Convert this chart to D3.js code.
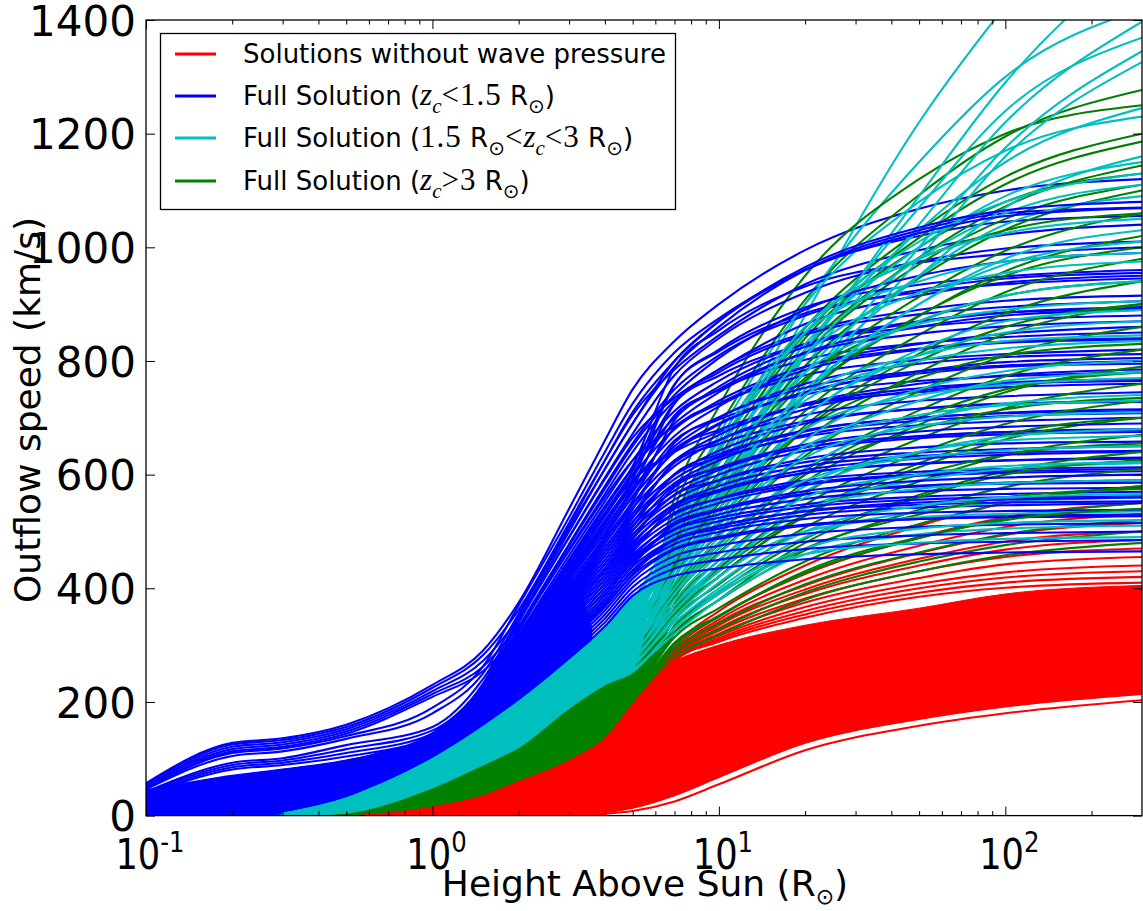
<!DOCTYPE html>
<html><head><meta charset="utf-8">
<script src="https://cdn.jsdelivr.net/npm/d3@7"></script>
<style>body{margin:0;background:#fff} svg{display:block}</style>
</head><body><svg id="chart" width="1143" height="911"></svg>
<script>
// x positions (heights above Sun, R_sun) at which every curve is sampled
const LX = [0.1,0.2,0.3,0.5,1,1.5,2,3,4,5,7,10,20,50,100,300];

// Full solution, z_c < 1.5 R_sun (blue)
const blueLines = [
 [57,128,136,160,230,290,375,540,660,750,835,900,995,1068,1100,1120],
 [43,68,80,96,145,232,350,505,610,690,800,870,960,1020,1045,1055],
 [44,70,81,97,139,219,319,448,540,615,788,854,931,973,988,1000],
 [55,125,133,156,225,282,362,515,625,705,785,845,935,995,1022,1040],
 [42,67,79,95,143,228,340,490,595,672,775,840,920,975,998,1010],
 [43,68,79,95,138,217,315,442,533,607,759,817,884,921,935,945],
 [52,121,129,152,219,272,348,490,592,665,735,785,865,915,938,950],
 [41,66,78,94,141,224,332,478,580,655,750,810,880,925,945,955],
 [41,66,77,93,137,215,311,437,526,600,726,774,830,860,872,880],
 [50,117,125,148,214,262,334,466,560,625,685,725,790,830,848,860],
 [40,65,77,93,140,220,325,468,566,640,730,785,850,890,906,915],
 [40,64,75,91,135,213,308,431,519,592,758,820,894,934,949,960],
 [47,113,121,144,209,254,320,445,532,590,640,675,725,760,775,785],
 [39,63,75,92,139,218,318,458,553,625,712,765,830,870,885,892],
 [38,62,73,89,134,211,304,425,512,585,704,749,802,831,842,850],
 [42,93,101,124,156,240,345,500,610,690,790,860,960,1030,1060,1070],
 [38,61,73,90,138,215,312,450,542,612,700,755,825,868,885,895],
 [37,60,71,87,133,209,300,420,505,577,725,780,846,882,895,905],
 [40,89,97,117,150,228,328,475,575,650,740,805,890,950,975,990],
 [36,59,71,88,136,212,306,441,530,598,680,730,790,822,834,840],
 [35,58,68,85,132,207,296,414,499,569,682,725,775,802,812,820],
 [38,85,93,110,144,215,310,450,545,612,690,745,815,860,880,890],
 [35,57,69,86,135,210,300,432,518,585,668,720,784,820,832,838],
 [34,56,66,83,131,205,292,408,492,562,660,697,741,765,773,780],
 [36,81,89,104,139,205,295,428,515,578,645,690,745,782,798,805],
 [33,55,67,84,134,207,294,424,507,572,650,700,760,795,807,812],
 [32,53,64,81,130,203,289,402,485,554,696,750,813,848,861,870],
 [48,110,118,140,190,262,370,525,640,725,815,875,960,1025,1055,1069],
 [32,53,65,82,133,205,289,416,497,560,640,688,745,778,790,795],
 [31,51,62,79,128,201,285,397,478,547,643,679,722,745,754,760],
 [46,105,113,135,180,250,355,510,625,710,800,870,965,1035,1065,1080],
 [30,51,63,80,132,202,284,408,488,550,625,670,722,752,762,768],
 [29,49,60,77,127,199,281,391,471,539,656,701,753,782,792,800],
 [29,49,61,78,131,200,280,401,480,541,615,660,715,748,760,765],
 [28,47,58,75,126,197,277,385,464,531,621,654,694,716,724,730],
 [27,47,59,76,130,198,276,395,472,532,600,642,690,716,725,728],
 [27,45,56,73,125,195,273,380,457,524,623,661,705,730,738,745],
 [26,45,57,74,128,196,272,389,465,525,592,632,676,700,708,712],
 [25,43,54,71,124,193,270,374,450,516,599,630,667,687,694,700],
 [24,43,55,72,127,194,268,383,458,517,585,625,670,695,703,708],
 [24,41,52,69,123,191,266,368,443,508,601,636,678,700,709,715],
 [23,41,53,70,126,192,264,377,450,510,572,608,648,668,675,678],
 [22,39,50,67,121,189,262,363,436,501,582,612,648,667,675,680],
 [21,39,51,68,125,190,260,371,443,502,565,600,642,664,671,675],
 [21,37,47,65,120,187,258,357,430,493,564,590,622,639,645,650],
 [20,37,49,66,124,188,256,365,436,495,556,590,628,648,655,658],
 [19,35,45,63,119,185,254,351,423,486,578,612,653,676,684,690],
 [18,35,47,64,122,186,252,359,429,488,548,580,615,633,639,642],
 [18,33,43,61,118,183,251,345,416,478,546,572,603,619,625,630],
 [17,33,45,62,121,184,249,353,422,481,540,570,603,620,625,628],
 [16,31,41,59,117,181,247,340,409,470,533,557,585,600,606,610],
 [15,31,43,60,120,182,245,347,415,474,530,558,590,605,610,613],
 [15,29,39,57,116,179,243,334,402,463,543,573,608,628,635,640],
 [14,29,41,58,119,180,241,341,408,466,522,550,582,598,603,606],
 [13,27,37,55,114,177,239,328,395,455,516,539,566,581,586,590],
 [12,27,39,56,118,178,237,335,401,459,512,537,565,579,584,586],
 [12,25,35,53,113,175,235,323,388,448,503,524,548,561,566,570],
 [11,25,37,54,117,176,234,330,394,452,505,530,557,571,575,577],
 [10,22,33,51,112,173,232,317,381,440,512,539,571,589,595,600],
 [9,22,35,52,116,174,231,324,388,445,495,518,543,556,560,562],
 [9,20,31,49,111,171,228,311,374,432,485,505,529,542,546,550],
 [8,20,33,50,114,172,228,318,382,438,487,510,535,547,551,553],
 [8,18,28,47,110,169,224,306,367,425,486,509,536,551,556,560],
 [6,18,31,48,113,170,225,313,376,430,478,499,522,533,536,538],
 [6,16,26,45,109,167,220,300,361,417,468,487,510,522,527,530],
 [5,16,29,46,112,168,222,308,370,423,470,490,512,522,525,527],
 [5,14,24,43,107,165,216,294,354,410,457,475,496,508,512,515],
 [3,12,22,41,106,163,213,288,347,402,446,463,482,493,497,500],
 [2,10,20,39,105,161,209,283,340,394,435,450,469,479,482,485],
 [1,8,18,37,104,160,205,277,333,387,422,435,451,460,463,465]
];

// Full solution, 1.5 R_sun < z_c < 3 R_sun (cyan)
const cyanLines = [
 [null,null,3,30,104,158,202,273,328,383,470,600,880,1220,1425,1700],
 [null,null,3,30,103,157,200,272,326,380,500,640,900,1150,1300,1420],
 [null,null,3,29,102,155,199,270,324,378,450,560,810,1090,1290,1520],
 [null,null,3,28,100,153,196,267,321,373,460,560,790,1040,1220,1397],
 [null,null,3,28,99,151,194,266,319,370,455,555,760,1000,1175,1345],
 [null,null,3,27,98,150,193,264,317,368,470,580,820,1070,1240,1369],
 [null,null,3,27,97,149,191,262,315,366,520,670,900,1080,1170,1230],
 [null,null,3,26,96,148,190,261,314,364,440,530,740,980,1160,1326],
 [null,null,2,26,95,146,188,259,312,361,490,620,830,1000,1090,1150],
 [null,null,2,25,94,145,187,258,310,359,480,600,820,1030,1150,1245],
 [null,null,2,25,92,143,184,254,306,354,450,550,760,950,1070,1160],
 [null,null,2,24,91,141,182,252,304,351,470,590,810,980,1060,1110],
 [null,null,2,24,90,140,181,251,303,349,500,640,850,1010,1080,1130],
 [null,null,2,23,88,138,178,248,299,344,460,570,780,950,1040,1090],
 [null,null,2,23,87,136,176,246,297,342,440,540,740,900,980,1030],
 [null,null,2,22,86,135,175,245,296,340,520,660,860,980,1025,1050],
 [null,null,2,21,84,133,172,242,292,335,440,540,740,900,970,1010],
 [null,null,2,21,83,131,170,240,290,332,510,650,850,940,975,990],
 [null,null,2,20,82,130,169,239,288,330,490,620,810,920,955,975],
 [null,null,2,19,80,128,166,236,285,325,450,560,750,870,915,940],
 [null,null,2,19,79,126,164,234,283,323,430,530,700,820,870,890],
 [null,null,2,18,78,125,163,233,281,321,470,600,780,865,890,905],
 [null,null,1,17,76,123,160,230,278,316,420,520,700,810,850,870],
 [null,null,1,17,75,121,158,228,276,313,460,580,740,810,835,845],
 [null,null,1,16,74,120,157,227,274,311,450,570,730,800,822,835],
 [null,null,1,15,72,118,154,223,270,306,410,500,660,750,782,800],
 [null,null,1,15,71,116,152,221,268,303,400,490,640,730,765,780],
 [null,null,1,14,70,115,151,220,267,301,430,540,680,740,758,770],
 [null,null,1,13,68,113,148,217,263,296,390,470,610,695,725,740],
 [null,null,1,13,67,111,146,215,261,294,420,520,650,705,722,730],
 [null,null,1,12,66,110,145,214,260,292,410,510,630,685,702,710],
 [null,null,1,11,64,108,142,211,256,287,370,440,570,640,667,680],
 [null,null,1,11,63,106,140,209,254,284,380,460,580,640,660,668],
 [null,null,1,10,62,105,139,208,252,282,390,480,590,630,643,650],
 [null,null,0,10,60,103,136,205,249,277,360,430,540,590,610,620],
 [null,null,0,9,59,101,134,203,247,274,360,440,560,600,615,622],
 [null,null,0,9,58,100,133,202,245,272,370,450,540,575,585,590],
 [null,null,0,8,56,98,130,199,242,268,340,400,490,535,552,560],
 [null,null,0,8,55,96,128,197,240,265,345,410,500,545,560,566],
 [null,null,0,7,54,95,127,196,238,263,350,420,500,525,531,535],
 [null,null,0,6,52,93,124,193,235,258,320,380,460,495,505,510],
 [null,null,0,6,51,91,122,191,233,255,330,395,470,505,515,520],
 [null,null,0,6,50,90,121,190,231,253,330,390,460,480,487,490]
];

// Full solution, z_c > 3 R_sun (green)
const greenLines = [
 [null,null,null,5,50,88,121,190,230,252,540,683,908,1092,1195,1277],
 [null,null,null,5,50,87,120,188,228,251,560,720,950,1120,1200,1250],
 [null,null,null,5,49,86,118,186,226,250,516,649,858,1029,1124,1200],
 [null,null,null,5,48,85,117,184,224,249,500,630,840,1000,1080,1130],
 [null,null,null,5,47,84,116,182,222,248,511,642,848,1017,1111,1186],
 [null,null,null,5,46,82,114,180,220,246,470,600,810,970,1050,1110],
 [null,null,null,5,46,81,113,178,218,245,497,623,820,982,1072,1144],
 [null,null,null,4,45,80,112,176,216,244,520,660,860,980,1030,1060],
 [null,null,null,4,44,79,111,174,214,243,483,603,791,946,1031,1100],
 [null,null,null,4,43,78,109,172,212,242,450,560,740,880,950,1000],
 [null,null,null,4,43,77,108,170,210,241,470,585,765,913,994,1060],
 [null,null,null,4,42,75,106,167,207,239,458,567,739,879,958,1020],
 [null,null,null,4,41,74,104,165,205,238,480,600,770,870,915,940],
 [null,null,null,4,40,73,103,163,203,237,445,549,712,846,921,980],
 [null,null,null,4,39,70,101,159,199,234,432,531,686,813,884,940],
 [null,null,null,4,38,71,102,161,201,235,420,520,680,800,860,900],
 [null,null,null,4,37,68,98,155,195,232,419,513,660,780,847,900],
 [null,null,null,4,36,67,97,153,193,231,440,540,680,770,810,830],
 [null,null,null,4,36,66,96,151,191,230,406,495,633,747,810,860],
 [null,null,null,3,35,64,93,147,187,228,394,477,607,713,773,820],
 [null,null,null,3,34,63,92,145,185,227,390,470,600,700,750,780],
 [null,null,null,3,33,62,91,143,183,226,384,463,587,688,745,790],
 [null,null,null,3,32,59,88,139,179,223,373,449,567,663,717,760],
 [null,null,null,3,31,58,87,137,177,222,400,480,600,680,715,735],
 [null,null,null,3,30,57,86,135,175,221,364,435,547,638,689,730],
 [null,null,null,3,29,55,83,131,171,219,354,421,527,613,662,700],
 [null,null,null,3,29,54,82,130,170,218,350,420,530,620,670,700],
 [null,null,null,3,28,53,81,128,168,217,344,407,507,588,634,670],
 [null,null,null,3,27,50,77,122,162,213,360,430,530,600,635,655],
 [null,null,null,3,26,51,78,124,164,215,334,394,487,564,606,640],
 [null,null,null,3,25,48,76,120,160,212,323,379,467,538,578,610],
 [null,null,null,2,24,47,74,118,158,211,320,380,480,560,600,625],
 [null,null,null,2,23,46,73,116,156,210,314,365,447,513,550,580],
 [null,null,null,2,22,44,71,112,152,208,304,352,427,488,523,550],
 [null,null,null,2,21,43,69,110,150,207,330,390,470,530,560,575],
 [null,null,null,2,21,42,68,108,148,206,294,338,407,463,495,520],
 [null,null,null,2,19,40,66,104,144,204,287,328,393,447,476,500],
 [null,null,null,2,19,39,64,102,142,202,300,350,430,490,520,540],
 [null,null,null,2,18,38,63,100,140,201,279,318,380,430,458,480]
];

// Solutions without wave pressure (red): the upper, separated curves and the two lowest ones
const redLines = [
 [null,null,null,2,16,35,58,95,135,198,300,360,440,510,550,580],
 [null,null,null,2,15,34,57,94,134,196,295,350,425,490,525,550],
 [null,null,null,2,15,33,56,93,133,194,290,345,415,475,508,530],
 [null,null,null,2,14,32,55,92,132,192,288,340,405,462,494,515],
 [null,null,null,1,14,31,54,91,131,190,285,335,398,452,482,500],
 [null,null,null,1,13,30,53,90,130,188,283,330,390,440,468,485],
 [null,null,null,1,13,29,52,89,129,186,281,325,382,430,455,470],
 [null,null,null,1,12,28,51,88,128,184,279,320,375,418,442,455],
 [null,null,null,1,12,27,50,87,127,182,277,316,367,408,428,440],
 [null,null,null,1,11,26,49,86,126,180,275,312,360,400,419,430],
 [null,null,null,1,11,25,48,85,125,178,273,309,354,392,410,420],
 [null,null,null,1,10,24,47,84,124,176,272,306,348,385,401,410],
 [null,null,null,null,null,null,0,0,3,8,25,55,115,158,180,203],
 [null,null,null,null,null,null,0,1,6,14,36,68,128,170,192,214]
];

// Dense cores where the curves of one family overlap completely (low / high envelopes)
const redBandX    = [0.3,0.5,0.7,1,1.5,2,3,4,5,5.6,7,10,20,50,100,300];
const redBandLow  = [0,0,0,0,0,0,1,6,14,22,36,68,128,170,192,214];
const redBandHigh = [0,2,8,18,38,63,100,140,200,245,272,300,335,365,390,405];
const greenBandX    = [0.3,0.5,0.7,1,1.5,2,3,4,5,5.4];
const greenBandLow  = [0,2,8,18,38,63,100,140,200,235];
const greenBandHigh = [0,5,25,50,88,121,190,230,252,260];
const cyanBandX    = [0.2,0.3,0.5,0.7,1,1.5,2,3,4,5,5.6];
const cyanBandLow  = [0,0,5,25,50,88,121,190,230,252,330];
const cyanBandHigh = [0,3,30,60,105,160,204,275,330,385,400];
const blueBandX    = [0.1,0.2,0.3,0.5,0.7,1,1.5,2,3,3.6];
const blueBandLow  = [0,0,3,30,60,105,160,204,275,305];
const blueBandHigh = [44,70,81,97,115,139,219,319,420,330];

const yTicks = [0,200,400,600,800,1000,1200,1400];
const xMajor = [0.1,1,10,100];
const xMajorExp = ["-1","0","1","2"];
const xMinor = [0.2,0.3,0.4,0.5,0.6,0.7,0.8,0.9,2,3,4,5,6,7,8,9,20,30,40,50,60,70,80,90,200];

const colors = {red:"#ff0000", blue:"#0000ff", cyan:"#00bfbf", green:"#008000"};
const legendItems = [
 {color:"#ff0000", segs:[["Solutions without wave pressure","t"]]},
 {color:"#0000ff", segs:[["Full Solution (","t"],["z","mi"],["c","msub"],["<1.5","m"],[" R","t"],["\u2299","sub"],[")","t"]]},
 {color:"#00bfbf", segs:[["Full Solution (","t"],["1.5","m"],[" R","t"],["\u2299","sub"],["<","m"],["z","mi"],["c","msub"],["<3","m"],[" R","t"],["\u2299","sub"],[")","t"]]},
 {color:"#008000", segs:[["Full Solution (","t"],["z","mi"],["c","msub"],[">3","m"],[" R","t"],["\u2299","sub"],[")","t"]]}
];

const W = 1143, H = 911;
const L = 146, R = 1142, T = 20, B = 815.6;
const x = d3.scaleLog().domain([0.1, 300]).range([L, R]);
const y = d3.scaleLinear().domain([0, 1400]).range([B, T]);

const svg = d3.select("#chart");
svg.append("rect").attr("width", W).attr("height", H).attr("fill", "#fff");
svg.append("clipPath").attr("id", "clip").append("rect")
  .attr("x", L).attr("y", T).attr("width", R - L).attr("height", B - T);
const plot = svg.append("g").attr("clip-path", "url(#clip)");

function band(xs, lo, hi, color) {
  const a = d3.area().x((d, i) => x(xs[i])).y0((d, i) => y(lo[i])).y1((d, i) => y(hi[i]))
    .curve(d3.curveMonotoneX);
  plot.append("path").attr("d", a(xs)).attr("fill", color).attr("stroke", color).attr("stroke-width", 1);
}
band(redBandX, redBandLow, redBandHigh, colors.red);
band(greenBandX, greenBandLow, greenBandHigh, colors.green);
band(cyanBandX, cyanBandLow, cyanBandHigh, colors.cyan);
band(blueBandX, blueBandLow, blueBandHigh, colors.blue);

const line = d3.line().defined(d => d[1] != null).x(d => x(d[0])).y(d => y(d[1])).curve(d3.curveMonotoneX);
// spread the four families evenly through the drawing order so they interleave
const families = [[redLines, colors.red, 0], [greenLines, colors.green, 1], [cyanLines, colors.cyan, 2], [blueLines, colors.blue, 3]];
const all = [];
families.forEach(([arr, c, o]) => arr.forEach((vals, i) => all.push({vals, c, key: (i + 0.5) / arr.length + o * 1e-4})));
all.sort((a, b) => a.key - b.key);
plot.selectAll("path.curve").data(all).join("path").attr("class", "curve")
  .attr("d", d => line(LX.map((v, i) => [v, d.vals[i]])))
  .attr("fill", "none").attr("stroke", d => d.c).attr("stroke-width", 2.1).attr("stroke-linejoin", "round");

// axes (ticks pointing inward on all four sides)
const font = "DejaVu Sans, Verdana, sans-serif";
function styleAxis(g) {
  g.select(".domain").remove();
  g.selectAll(".tick line").attr("stroke", "#000").attr("stroke-width", 1);
}
svg.append("g").attr("transform", `translate(0,${B})`)
  .call(d3.axisBottom(x).tickValues(xMajor).tickSize(-9).tickFormat("")).call(styleAxis);
svg.append("g").attr("transform", `translate(0,${B})`)
  .call(d3.axisBottom(x).tickValues(xMinor).tickSize(-4.5).tickFormat("")).call(styleAxis);
svg.append("g").attr("transform", `translate(0,${T})`)
  .call(d3.axisTop(x).tickValues(xMajor).tickSize(-9).tickFormat("")).call(styleAxis);
svg.append("g").attr("transform", `translate(0,${T})`)
  .call(d3.axisTop(x).tickValues(xMinor).tickSize(-4.5).tickFormat("")).call(styleAxis);
svg.append("g").attr("transform", `translate(${R},0)`)
  .call(d3.axisRight(y).tickValues(yTicks).tickSize(-9).tickFormat("")).call(styleAxis);
const yAx = svg.append("g").attr("transform", `translate(${L},0)`)
  .call(d3.axisLeft(y).tickValues(yTicks).tickSize(-9).tickPadding(10).tickFormat(d3.format("d")))
  .call(styleAxis);
yAx.selectAll(".tick text").attr("font-family", font).attr("font-size", 42).attr("fill", "#000")
  .attr("dy", "0.36em");

// x tick labels 10^n (slightly condensed, like the reference mathtext)
xMajor.forEach((v, i) => {
  const t = svg.append("text").attr("transform", `translate(${x(v) + 4},869) scale(0.84,1)`)
    .attr("text-anchor", "middle")
    .attr("font-family", font).attr("font-size", 42).attr("fill", "#000");
  t.append("tspan").text("10");
  t.append("tspan").attr("dy", -17).attr("font-size", 29).text(xMajorExp[i]);
});

// frame
svg.append("rect").attr("x", L).attr("y", T).attr("width", R - L).attr("height", B - T)
  .attr("fill", "none").attr("stroke", "#000").attr("stroke-width", 1.3);

// axis titles
const xt = svg.append("text").attr("x", 645).attr("y", 896).attr("text-anchor", "middle")
  .attr("font-family", font).attr("font-size", 36).attr("fill", "#000");
xt.append("tspan").text("Height Above Sun (R");
xt.append("tspan").attr("dy", 8).attr("font-size", 22).text("\u2299");
xt.append("tspan").attr("dy", -8).text(")");
svg.append("text").attr("transform", "translate(40,410) rotate(-90)").attr("text-anchor", "middle")
  .attr("font-family", font).attr("font-size", 36).attr("fill", "#000").text("Outflow speed (km/s)");

// legend
const lg = svg.append("g");
lg.append("rect").attr("x", 160.5).attr("y", 33.5).attr("width", 515).attr("height", 176)
  .attr("fill", "#fff").attr("stroke", "#000").attr("stroke-width", 1.3);
const rowY = [54, 96, 138, 181];
legendItems.forEach((it, i) => {
  lg.append("line").attr("x1", 175).attr("x2", 216).attr("y1", rowY[i]).attr("y2", rowY[i])
    .attr("stroke", it.color).attr("stroke-width", 3);
  const t = lg.append("text").attr("x", 243).attr("y", rowY[i] + 9).attr("font-size", 26).attr("fill", "#000");
  let shift = 0;
  it.segs.forEach(([s, kind]) => {
    const sub = kind === "msub" || kind === "sub";
    const target = sub ? 8 : 0;
    const ts = t.append("tspan").attr("dy", target - shift).text(s);
    shift = target;
    if (kind === "t") ts.attr("font-family", font);
    else if (kind === "sub") ts.attr("font-family", font).attr("font-size", 20);
    else if (kind === "mi") ts.attr("font-family", "Liberation Serif, serif").attr("font-style", "italic").attr("font-size", 31);
    else if (kind === "msub") ts.attr("font-family", "Liberation Serif, serif").attr("font-style", "italic").attr("font-size", 21);
    else if (kind === "m") ts.attr("font-family", "Liberation Serif, serif").attr("font-size", 31).attr("letter-spacing", 1);
  });
});
</script></body></html>
